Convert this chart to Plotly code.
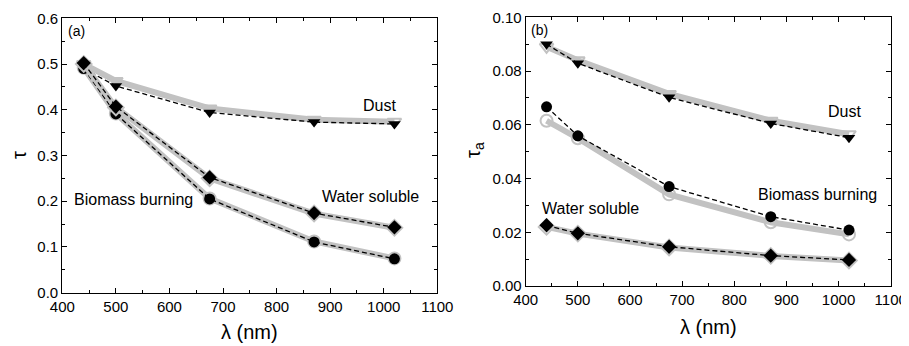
import plotly.graph_objects as go
from plotly.subplots import make_subplots

wavelength = [440, 500, 675, 870, 1020]

# Panel (a): total optical depth tau
a_dust_meas = [0.490, 0.452, 0.394, 0.373, 0.369]
a_dust_model = [0.500, 0.463, 0.403, 0.378, 0.374]
a_ws_meas = [0.502, 0.407, 0.252, 0.174, 0.143]
a_ws_model = [0.500, 0.405, 0.250, 0.173, 0.142]
a_bb_meas = [0.490, 0.391, 0.205, 0.111, 0.074]
a_bb_model = [0.492, 0.392, 0.206, 0.112, 0.075]

# Panel (b): absorption optical depth tau_a
b_dust_meas = [0.0900, 0.0829, 0.0702, 0.0605, 0.0552]
b_dust_model = [0.0890, 0.0840, 0.0715, 0.0615, 0.0565]
b_bb_meas = [0.0667, 0.0559, 0.0370, 0.0258, 0.0208]
b_bb_model = [0.0615, 0.0550, 0.0341, 0.0237, 0.0192]
b_ws_meas = [0.0226, 0.0196, 0.0146, 0.0113, 0.0097]
b_ws_model = [0.0220, 0.0195, 0.0143, 0.0112, 0.0095]

GRAY = "#c2c2c2"
FONT = "Liberation Sans, Arial, sans-serif"

# The page body has an 8px margin; size the figure to fill the window.
OFF = 8
W, H = 909 - OFF, 346 - OFF


def px(p):
    return (p - OFF) / W


def py(p):
    return 1 - (p - OFF) / H


fig = make_subplots(rows=1, cols=2)


def add_pair(model, meas, sym, col):
    fig.add_trace(go.Scatter(
        x=wavelength, y=model, mode="lines",
        line=dict(color=GRAY, width=6),
        showlegend=False, hoverinfo="skip"), row=1, col=col)
    fig.add_trace(go.Scatter(
        x=wavelength, y=model, mode="markers",
        marker=dict(symbol=sym + "-open", size=12, color=GRAY,
                    line=dict(color=GRAY, width=2)),
        showlegend=False), row=1, col=col)
    fig.add_trace(go.Scatter(
        x=wavelength, y=meas, mode="lines+markers",
        line=dict(color="black", width=1.3, dash="5px,3px"),
        marker=dict(symbol=sym, size=11, color="black"),
        showlegend=False), row=1, col=col)


add_pair(a_dust_model, a_dust_meas, "triangle-down", 1)
add_pair(a_bb_model, a_bb_meas, "circle", 1)
add_pair(a_ws_model, a_ws_meas, "diamond", 1)

add_pair(b_dust_model, b_dust_meas, "triangle-down", 2)
add_pair(b_bb_model, b_bb_meas, "circle", 2)
add_pair(b_ws_model, b_ws_meas, "diamond", 2)

axis_common = dict(
    showgrid=False, zeroline=False, showline=True, linecolor="black",
    linewidth=1.2, mirror="ticks", ticks="inside", ticklen=5,
    tickwidth=1, tickcolor="black", automargin=False,
    tickfont=dict(family=FONT, size=15, color="black"),
)

fig.update_xaxes(**axis_common, range=[400, 1100], dtick=100,
                 minor=dict(dtick=50, ticks="inside", ticklen=3, tickcolor="black"))
fig.update_xaxes(domain=[px(62.3), px(437.3)], row=1, col=1)
fig.update_xaxes(domain=[px(525.7), px(890.7)], row=1, col=2)

fig.update_yaxes(**axis_common)
fig.update_yaxes(range=[0, 0.6], dtick=0.1, tickformat=".1f",
                 minor=dict(dtick=0.05, ticks="inside", ticklen=3, tickcolor="black"),
                 domain=[py(292.7), py(18.3)], row=1, col=1)
fig.update_yaxes(range=[0, 0.1], dtick=0.02, tickformat=".2f",
                 minor=dict(dtick=0.01, ticks="inside", ticklen=3, tickcolor="black"),
                 domain=[py(286), py(17.3)], row=1, col=2)

txt = dict(family=FONT, size=16, color="black")
lbl = dict(family=FONT, size=14, color="black")
ttl = dict(family=FONT, size=20, color="black")
ann = [
    dict(xref="x", yref="y", x=993, y=0.41, text="Dust", showarrow=False, font=txt),
    dict(xref="x", yref="y", x=975, y=0.21, text="Water soluble", showarrow=False, font=txt),
    dict(xref="x", yref="y", x=532, y=0.204, text="Biomass burning", showarrow=False, font=txt),
    dict(xref="x domain", yref="y domain", x=0.01, y=0.99, text="(a)", showarrow=False,
         xanchor="left", yanchor="top", font=lbl),
    dict(xref="x2", yref="y2", x=1012, y=0.0651, text="Dust", showarrow=False, font=txt),
    dict(xref="x2", yref="y2", x=959, y=0.0342, text="Biomass burning", showarrow=False, font=txt),
    dict(xref="x2", yref="y2", x=525, y=0.0289, text="Water soluble", showarrow=False, font=txt),
    dict(xref="x2 domain", yref="y2 domain", x=0.01, y=0.99, text="(b)", showarrow=False,
         xanchor="left", yanchor="top", font=lbl),
    # axis titles
    dict(xref="paper", yref="paper", x=px((62.3 + 437.3) / 2), y=py(332),
         xanchor="center", yanchor="middle",
         text="λ (nm)", showarrow=False, font=ttl),
    dict(xref="paper", yref="paper", x=px((525.7 + 890.7) / 2), y=py(327),
         xanchor="center", yanchor="middle",
         text="λ (nm)", showarrow=False, font=ttl),
    dict(xref="paper", yref="paper", x=px(19), y=py(155),
         xanchor="center", yanchor="middle",
         text="τ", textangle=-90, showarrow=False, font=ttl),
    dict(xref="paper", yref="paper", x=px(475), y=py(150),
         xanchor="center", yanchor="middle",
         text="τ<sub>a</sub>", textangle=-90, showarrow=False, font=ttl),
]
fig.update_layout(
    width=W, height=H, margin=dict(l=0, r=0, t=0, b=0),
    paper_bgcolor="white", plot_bgcolor="white", annotations=ann,
)

fig.write_html("out.html")
